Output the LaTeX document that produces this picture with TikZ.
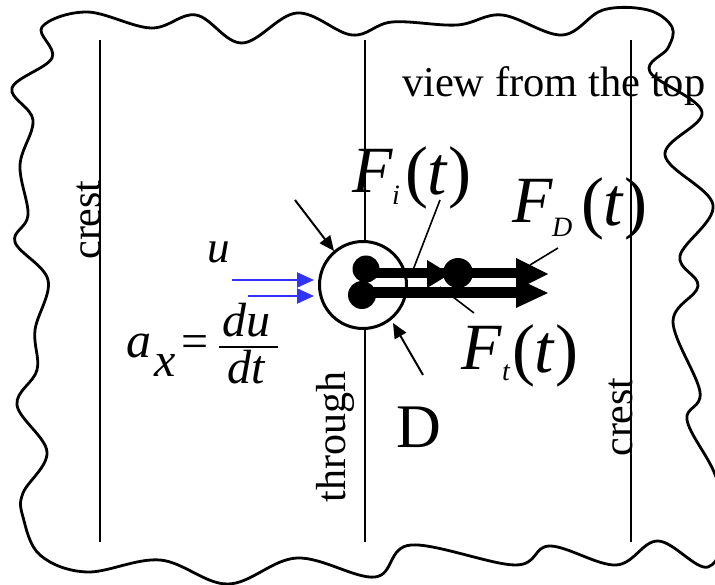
\documentclass[tikz,border=0pt]{standalone}
\usepackage{fontspec}
\setmainfont{Liberation Serif}
\usetikzlibrary{arrows.meta}
\newcommand\fsz[1]{\fontsize{#1}{#1}\selectfont}
\definecolor{ublue}{RGB}{51,51,255}
\begin{document}
\begin{tikzpicture}[x=1pt,y=-1pt,
  txt/.style={inner sep=0pt, outer sep=0pt, anchor=base west},
  vtxt/.style={inner sep=0pt, outer sep=0pt, rotate=90, anchor=base, font=\fsz{42}},
  vline/.style={line width=1.6pt},
  border/.style={line width=2.8pt, line join=round},
  pointer/.style={line width=2pt, -{Triangle[length=15pt,width=13pt]}},
  leader/.style={line width=1.6pt},
  flow/.style={draw=ublue, line width=2.2pt, -{Triangle[length=17pt,width=15pt]}},
  blob/.style={fill=black}
]
\useasboundingbox (0,0) rectangle (715,585);

% wavy outline
\draw[border] plot[smooth cycle, tension=0.6] coordinates {
 (42,27) (87,12) (151,28) (196,15) (242,43) (297,13) (352,35) (392,22)
 (457,25) (502,15) (562,35) (603,10) (648,10) (672,27) (668,48)
 (650,72) (702,112) (665,155) (713,205) (680,256) (698,286) (673,322)
 (700,392) (687,420) (714,472) (728,520)
 (708,567) (658,541) (616,565) (550,546) (515,565) (411,545) (375,577)
 (297,558) (228,584) (160,560) (87,572)
 (40,555) (23,517) (23,493) (47,452) (17,405) (37,370) (35,330) (48,280)
 (15,242) (28,215) (20,165) (33,120) (12,88) (52,58)};

% wave crest / trough lines
\coordinate (l1t) at (100,40);  \coordinate (l1b) at (100,542);
\coordinate (l2t) at (365,40);  \coordinate (l2b) at (365,542);
\coordinate (l3t) at (631,40);  \coordinate (l3b) at (631,542);
\draw[vline] (l1t) -- (l1b);
\draw[vline] (l2t) -- (l2b);
\draw[vline] (l3t) -- (l3b);

% cylinder
\node[draw, circle, fill=white, line width=3pt, minimum size=87pt, inner sep=0pt] (cyl) at (363,285) {};

% force bars
\fill (365,268) rectangle (518,278);
\fill (362,287.5) rectangle (518,298.5);
\fill (516,258) -- (548,274) -- (516,290) -- cycle;
\fill (516,278) -- (548,293) -- (516,308) -- cycle;
\fill[blob] (366,269) circle[radius=13.5];
\fill[blob] (362,295) circle[radius=14];
\fill (427,260) -- (450,274) -- (427,288) -- cycle;
\fill[blob] (458,273) circle[radius=15];

% diameter pointers
\coordinate (p1s) at (295,200); \coordinate (p1e) at (334,251);
\coordinate (p2s) at (423,375); \coordinate (p2e) at (393,323);
\draw[pointer] (p1s) -- (p1e);
\draw[pointer] (p2s) -- (p2e);

% flow arrows
\coordinate (u1s) at (232,280); \coordinate (u1e) at (314,280);
\coordinate (u2s) at (248,296); \coordinate (u2e) at (314,296);
\draw[flow] (u1s) -- (u1e);
\draw[flow] (u2s) -- (u2e);

% texts
\node[txt, font=\fsz{42.5}] (view) at (402,97) {view from the top};
\node[vtxt] (crestL) at (100,220) {crest};
\node[vtxt] (through) at (345,437) {through};
\node[vtxt] (crestR) at (632,417) {crest};
\node[txt, font=\fsz{62}] (D) at (396,447) {D};
\node[txt, font=\itshape\fsz{45}] (u) at (207,263) {u};

\node[txt, font=\itshape\fsz{50}] (ax) at (126,357) {a};
\node[txt, font=\itshape\fsz{48}] (xs) at (154,377) {x};
\node[txt, font=\fsz{48}] (eq) at (181,358) {=};
\node[txt, font=\itshape\fsz{48}] (du) at (222,337) {du};
\coordinate (fb1) at (219,347); \coordinate (fb2) at (278,347);
\draw[line width=1.6pt] (fb1) -- (fb2);
\node[txt, font=\itshape\fsz{48}] (dt) at (227,384) {dt};

\node[txt, font=\itshape\fsz{66}] (Fi) at (352,193) {F};
\node[txt, font=\itshape\fsz{28}] (Fis) at (392,205) {i};
\node[txt, font=\fsz{69}] (Fit) at (405,195) {(\textit{t})};

\node[txt, font=\itshape\fsz{66}] (FD) at (512,223) {F};
\node[txt, font=\itshape\fsz{28}] (FDs) at (552,237) {D};
\node[txt, font=\fsz{69}] (FDt) at (581,226) {(\textit{t})};

\node[txt, font=\itshape\fsz{66}] (Ft) at (461,370) {F};
\node[txt, font=\itshape\fsz{28}] (Fts) at (502,381) {t};
\node[txt, font=\fsz{69}] (Ftt) at (512,372) {(\textit{t})};

% leaders
\coordinate (Li1) at (440,200); \coordinate (Li2) at (413,270);
\coordinate (LD1) at (558,248); \coordinate (LD2) at (530,265);
\coordinate (Lt1) at (474,313); \coordinate (Lt2) at (440,287);
\draw[leader] (Li1) -- (Li2);
\draw[leader] (LD1) -- (LD2);
\draw[leader] (Lt1) -- (Lt2);
\end{tikzpicture}
\end{document}
